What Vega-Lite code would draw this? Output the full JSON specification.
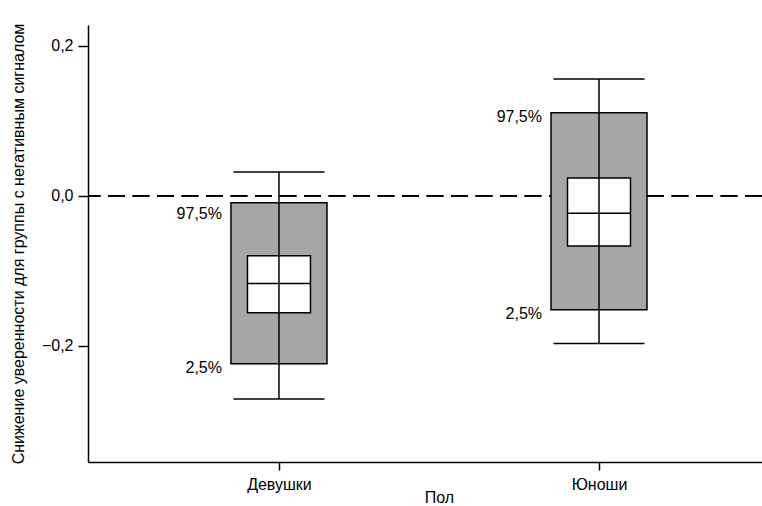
{
  "$schema": "https://vega.github.io/schema/vega-lite/v6.json",
  "autosize": "none",
  "width": 674,
  "height": 437,
  "padding": {"left": 88, "top": 25, "right": 0, "bottom": 44},
  "background": "white",
  "config": {
    "font": "Liberation Sans, Arial, sans-serif",
    "view": {"stroke": null},
    "axis": {
      "grid": false,
      "domainColor": "#000000",
      "domainWidth": 1.5,
      "tickColor": "#000000",
      "tickWidth": 1.5,
      "labelColor": "#000000",
      "labelFont": "Liberation Sans, Arial, sans-serif",
      "labelFontSize": 16,
      "titleColor": "#000000",
      "titleFont": "Liberation Sans, Arial, sans-serif",
      "titleFontSize": 16,
      "titleFontWeight": "normal"
    }
  },
  "data": {
    "values": [
      {"group": "Девушки", "whisker_low": -0.271, "box_low": -0.224, "inner_low": -0.156, "median": -0.117, "inner_high": -0.080, "box_high": -0.009, "whisker_high": 0.032},
      {"group": "Юноши", "whisker_low": -0.197, "box_low": -0.152, "inner_low": -0.067, "median": -0.023, "inner_high": 0.024, "box_high": 0.111, "whisker_high": 0.156}
    ]
  },
  "encoding": {
    "x": {
      "field": "group",
      "type": "nominal",
      "sort": ["Девушки", "Юноши"],
      "scale": {"type": "point", "padding": 0.553, "align": 0.5395},
      "axis": {
        "title": "Пол",
        "labelAngle": 0,
        "tickSize": 8,
        "labelPadding": 6,
        "titleX": 351,
        "titleY": 27,
        "titleBaseline": "top"
      }
    }
  },
  "layer": [
    {
      "mark": {"type": "rule", "stroke": "#000000", "strokeWidth": 1.6, "strokeDash": [17, 7.5]},
      "encoding": {"x": null, "y": {"datum": 0, "type": "quantitative"}}
    },
    {
      "mark": {"type": "bar", "size": 96, "fill": "#a6a6a6", "stroke": "#000000", "strokeWidth": 1.5},
      "encoding": {
        "y": {
          "field": "box_low",
          "type": "quantitative",
          "scale": {"domain": [-0.355, 0.228], "nice": false, "zero": false},
          "axis": {
            "title": "Снижение уверенности для группы с негативным сигналом",
            "values": [-0.2, 0, 0.2],
            "labelExpr": "replace(format(datum.value, '.1f'), '.', ',')",
            "tickSize": 10,
            "labelPadding": 5,
            "titleX": -70,
            "titleBaseline": "middle"
          }
        },
        "y2": {"field": "box_high"}
      }
    },
    {
      "mark": {"type": "bar", "size": 63, "fill": "#ffffff", "stroke": "#000000", "strokeWidth": 1.5},
      "encoding": {
        "y": {"field": "inner_low", "type": "quantitative"},
        "y2": {"field": "inner_high"}
      }
    },
    {
      "mark": {"type": "rule", "stroke": "#000000", "strokeWidth": 1.5},
      "encoding": {
        "y": {"field": "whisker_low", "type": "quantitative"},
        "y2": {"field": "whisker_high"}
      }
    },
    {
      "mark": {"type": "tick", "size": 91, "thickness": 1.5, "color": "#000000", "opacity": 1},
      "encoding": {"y": {"field": "whisker_low", "type": "quantitative"}}
    },
    {
      "mark": {"type": "tick", "size": 91, "thickness": 1.5, "color": "#000000", "opacity": 1},
      "encoding": {"y": {"field": "whisker_high", "type": "quantitative"}}
    },
    {
      "mark": {"type": "tick", "size": 63, "thickness": 1.5, "color": "#000000", "opacity": 1},
      "encoding": {"y": {"field": "median", "type": "quantitative"}}
    },
    {
      "mark": {"type": "text", "text": "2,5%", "align": "right", "baseline": "middle", "dx": -57, "dy": 4, "fontSize": 16, "color": "#000000"},
      "encoding": {"y": {"field": "box_low", "type": "quantitative"}}
    },
    {
      "transform": [{"filter": "datum.group === 'Юноши'"}],
      "mark": {"type": "text", "text": "97,5%", "align": "right", "baseline": "middle", "dx": -57, "dy": 4, "fontSize": 16, "color": "#000000"},
      "encoding": {"y": {"field": "box_high", "type": "quantitative"}}
    },
    {
      "transform": [{"filter": "datum.group === 'Девушки'"}],
      "mark": {"type": "text", "text": "97,5%", "align": "right", "baseline": "middle", "dx": -57, "dy": 11, "fontSize": 16, "color": "#000000"},
      "encoding": {"y": {"field": "box_high", "type": "quantitative"}}
    }
  ]
}
